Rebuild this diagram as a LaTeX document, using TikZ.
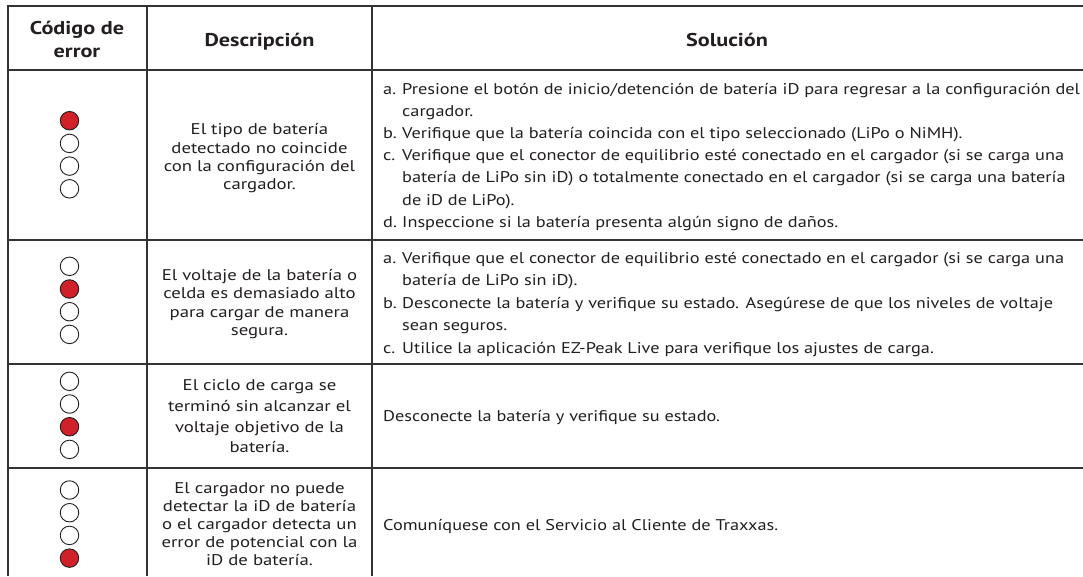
\documentclass[tikz,border=0pt]{standalone}
\usepackage{fontspec}
\setmainfont{PT Sans}
\newfontfamily\descfont[FakeStretch=1.21]{PT Sans}
\newfontfamily\solfont[FakeStretch=1.18]{PT Sans}
\newfontfamily\headfont[FakeStretch=1.2]{PT Sans Bold}
\definecolor{rule}{HTML}{333333}
\definecolor{ink}{HTML}{231F20}
\definecolor{ledred}{HTML}{D0202A}
\tikzset{
  grid/.style={draw=rule, line width=2pt},
  led/.style={circle, draw=ink, line width=0.9pt, minimum size=18.5pt, inner sep=0pt},
  ledon/.style={led, fill=ledred},
  ledoff/.style={led, fill=white},
  head/.style={text=ink, font=\fontsize{18.5}{23.3}\selectfont\headfont, align=center, inner sep=0pt},
  desc/.style={text=ink, font=\fontsize{15.5}{18.3}\selectfont\descfont, align=center, inner sep=0pt},
  sol/.style={text=ink, font=\fontsize{15.5}{22.2}\selectfont\solfont, inner sep=0pt, align=left},
}
\newcommand{\lbl}[1]{\makebox[19pt][l]{#1}}
\begin{document}
\begin{tikzpicture}[x=1pt,y=-1pt]
\useasboundingbox (0,0) rectangle (1083,576);
\fill[white] (0,0) rectangle (1083,576);
% grid
\draw[grid] (6.5,6) -- (1083,6);
\draw[grid] (7.5,5) -- (7.5,576);
\draw[grid] (147,5) -- (147,576);
\draw[grid] (372,5) -- (372,576);
\draw[grid] (6.5,69.5) -- (1083,69.5);
\draw[grid] (6.5,239.5) -- (1083,239.5);
\draw[grid] (6.5,364) -- (1083,364);
\draw[grid] (6.5,467.7) -- (1083,467.7);
% header
\node[head] (h1) at (77,39.7) {Código de\\error};
\node[head, anchor=base] (h2) at (259.5,46.7) {Descripción};
\node[head, anchor=base] (h3) at (727,46.7) {Solución};
% LEDs
\node[ledon]  (r1a) at (69.5,120.7) {};
\node[ledoff] (r1b) at (69.5,143.4) {};
\node[ledoff] (r1c) at (69.5,166.1) {};
\node[ledoff] (r1d) at (69.5,188.8) {};
\node[ledoff] (r2a) at (69.5,266.3) {};
\node[ledon]  (r2b) at (69.5,289.0) {};
\node[ledoff] (r2c) at (69.5,311.7) {};
\node[ledoff] (r2d) at (69.5,334.4) {};
\node[ledoff] (r3a) at (69.5,381.3) {};
\node[ledoff] (r3b) at (69.5,404.0) {};
\node[ledon]  (r3c) at (69.5,426.7) {};
\node[ledoff] (r3d) at (69.5,449.4) {};
\node[ledoff] (r4a) at (69.5,490.0) {};
\node[ledoff] (r4b) at (69.5,512.7) {};
\node[ledoff] (r4c) at (69.5,535.4) {};
\node[ledon]  (r4d) at (69.5,558.1) {};
% descriptions
\node[desc] (d1) at (259.5,158.5) {El tipo de batería\\detectado no coincide\\con la configuración del\\cargador.};
\node[desc] (d2) at (259.5,304.2) {El voltaje de la batería o\\celda es demasiado alto\\para cargar de manera\\segura.};
\node[desc, font=\fontsize{15.5}{20.7}\selectfont\descfont] (d3) at (259.5,416.4) {El ciclo de carga se\\terminó sin alcanzar el\\voltaje objetivo de la\\batería.};
\node[desc, font=\fontsize{15.5}{18.1}\selectfont\descfont] (d4) at (259.5,523.9) {El cargador no puede\\detectar la iD de batería\\o el cargador detecta un\\error de potencial con la\\iD de batería.};
% solutions
\node[sol, anchor=west] (s1) at (383,156.2) {\begin{tabular}{@{}l@{}}
\lbl{a.}Presione el botón de inicio/detención de batería iD para regresar a la configuración del\\
\lbl{}cargador.\\
\lbl{b.}Verifique que la batería coincida con el tipo seleccionado (LiPo o NiMH).\\
\lbl{c.}Verifique que el conector de equilibrio esté conectado en el cargador (si se carga una\\
\lbl{}batería de LiPo sin iD) o totalmente conectado en el cargador (si se carga una batería\\
\lbl{}de iD de LiPo).\\
\lbl{d.}Inspeccione si la batería presenta algún signo de daños.
\end{tabular}};
\node[sol, anchor=west, font=\fontsize{15.5}{22.5}\selectfont\solfont] (s2) at (383,303.8) {\begin{tabular}{@{}l@{}}
\lbl{a.}Verifique que el conector de equilibrio esté conectado en el cargador (si se carga una\\
\lbl{}batería de LiPo sin iD).\\
\lbl{b.}Desconecte la batería y verifique su estado. Asegúrese de que los niveles de voltaje\\
\lbl{}sean seguros.\\
\lbl{c.}Utilice la aplicación EZ-Peak Live para verifique los ajustes de carga.
\end{tabular}};
\node[sol, anchor=base west] (s3) at (383,421) {Desconecte la batería y verifique su estado.};
\node[sol, anchor=base west] (s4) at (383,530) {Comuníquese con el Servicio al Cliente de Traxxas.};
\end{tikzpicture}
\end{document}
